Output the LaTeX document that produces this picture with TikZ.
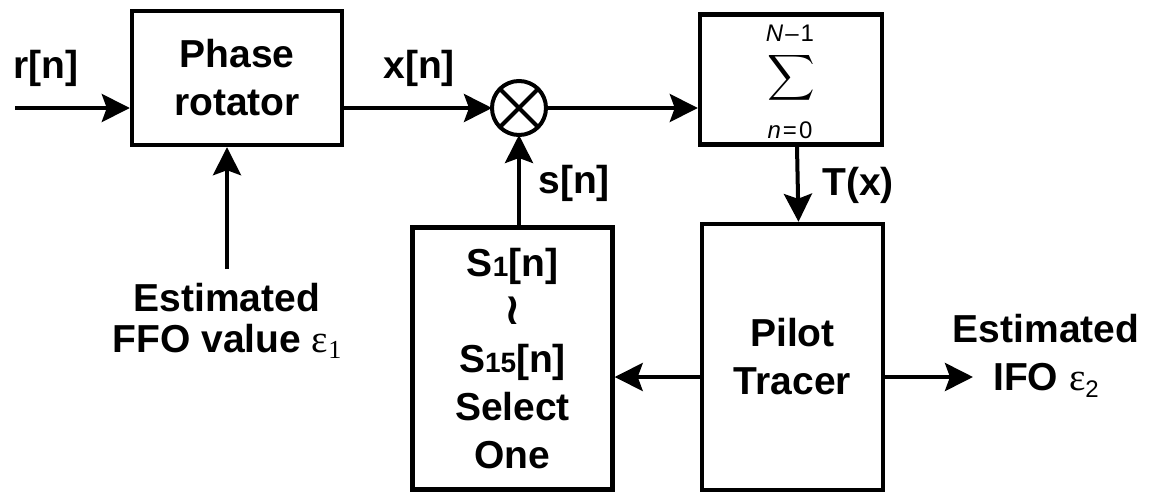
\documentclass[tikz,border=0pt]{standalone}
\usepackage{fontspec}
\setmainfont{Liberation Sans}
\newfontfamily\epsfont{Liberation Serif}
\newfontfamily\wavefont{DejaVu Sans}
\usepackage{graphicx}
\usetikzlibrary{arrows.meta,calc}
\newcommand{\subidx}[1]{{\fontsize{14}{14}\selectfont #1}}
\newcommand{\epsone}{{\epsfont\mdseries ε\raisebox{-3pt}{\fontsize{13}{13}\selectfont 1}}}
\newcommand{\epstwo}{{\epsfont\mdseries ε}\raisebox{-3.5pt}{\fontsize{12}{12}\selectfont\mdseries 2}}

\begin{document}
\begin{tikzpicture}[x=0.5pt, y=-0.5pt,
    font=\fontsize{19.5}{24}\selectfont\bfseries,
    arr/.style={-{Stealth[length=14pt, width=14pt, inset=2.5pt]}, line width=2pt},
    box/.style={draw, line width=2.2pt, align=center, inner sep=0pt},
    lbl/.style={inner sep=0pt, align=center}
]
    \useasboundingbox (0,0) rectangle (1153,493);

    \node[box, minimum width=105pt, minimum height=67pt] (rot) at (237,78) {Phase\\rotator};
    \node[draw, circle, line width=2pt, minimum size=27pt, inner sep=0pt, outer sep=0pt] (mul) at (519,108) {};
    \draw[line width=2pt] (mul.north west) -- (mul.south east);
    \draw[line width=2pt] (mul.north east) -- (mul.south west);
    \node[box, minimum width=91pt, minimum height=65pt] (sum) at (791,79.5) {};
    \node[lbl, font=\fontsize{12}{12}\selectfont] (ntop) at (790,33) {\itshape N\upshape\kern1pt–\kern1pt1};
    \node[lbl, font=\fontsize{10}{10}\selectfont] (sigma) at (791,78) {\scalebox{1.65}[1.6]{$\displaystyle\sum$}};
    \node[lbl, font=\fontsize{12}{12}\selectfont] (nbot) at (790,130) {\itshape n\upshape\kern1pt=\kern1pt0};
    \node[box, minimum width=100pt, minimum height=131pt] (sel) at (512.5,358.5) {S\subidx{1}[n]\\{\wavefont\fontsize{22}{22}\selectfont ≀}\\S\subidx{15}[n]\\Select\\One};
    \node[box, minimum width=90.5pt, minimum height=133pt] (pilot) at (792.5,357) {Pilot\\Tracer};

    \node[lbl, anchor=base west] (rlab) at (13,78) {r[n]};
    \node[lbl, anchor=base west] (xlab) at (383,78) {x[n]};
    \node[lbl, anchor=base west] (slab) at (538,193) {s[n]};
    \node[lbl, anchor=base west] (tlab) at (822,195) {T(x)};
    \node[lbl, anchor=north, font=\fontsize{19.5}{20.5}\selectfont\bfseries] (ffo) at (227,283) {Estimated\\FFO value \epsone};
    \node[lbl, anchor=north] (ifo) at (1046,314) {Estimated\\IFO \epstwo};

    \coordinate (rin) at (15,108);
    \coordinate (ifoend) at (973,377);

    \draw[arr] (rin) -- (rin -| rot.west);
    \draw[arr] (rot.east |- mul) -- (mul);
    \draw[arr] (mul) -- (mul -| sum.west);
    \draw[arr] ([xshift=3pt]sum.south) -- ([xshift=3pt]pilot.north);
    \draw[arr] (sel.north -| mul) -- (mul);
    \draw[arr, shorten <=7pt] (ffo.north) -- (ffo.north |- rot.south);
    \draw[arr] (pilot.west |- ifoend) -- (sel.east |- ifoend);
    \draw[arr] (pilot.east |- ifoend) -- (ifoend);
\end{tikzpicture}
\end{document}
